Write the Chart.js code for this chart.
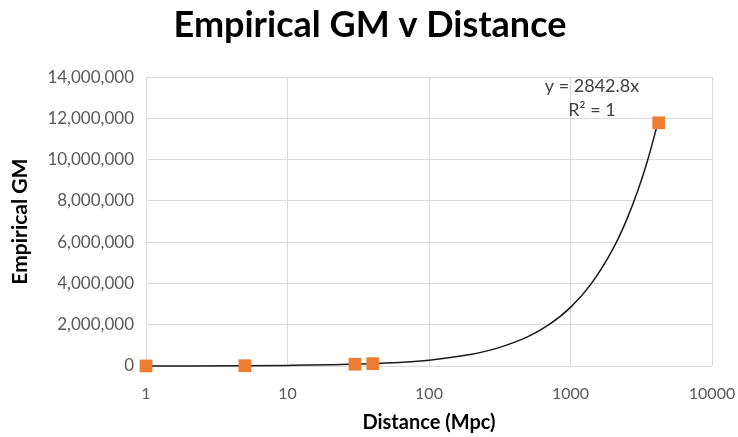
<!DOCTYPE html>
<html>
<head>
<meta charset="utf-8">
<script src="https://cdn.jsdelivr.net/npm/chart.js@4"></script>
<style>
  html, body { margin: 0; padding: 0; background: #fff; }
  #wrap { width: 738px; height: 437px; }
</style>
</head>
<body>
<div id="wrap"><canvas id="gmChart" width="738" height="437"></canvas></div>
<script>
// values
const distances = [1, 5, 30, 40, 4200];
const empiricalGM = [2800, 14200, 85300, 113700, 11790000];
const xTicks = [1, 10, 100, 1000, 10000];
const yTicks = [0, 2000000, 4000000, 6000000, 8000000, 10000000, 12000000, 14000000];

// linear trendline shown on the chart: y = 2842.8x, R² = 1
const trendSlope = 2842.8;
const trendX = [1, 2, 5, 10, 20, 50, 100, 200, 300, 500, 700, 1000, 1400, 2000, 2500, 3000, 3500, 4200];
const trendLabel = ["y = 2842.8x", "R² = 1"];

const fontFamily = "Lato, 'Open Sans', sans-serif";

const trendText = {
    id: 'trendText',
    afterDraw(chart) {
        const ctx = chart.ctx;
        ctx.save();
        ctx.font = "18px " + fontFamily;
        ctx.fillStyle = '#404040';
        ctx.textAlign = 'center';
        ctx.textBaseline = 'middle';
        ctx.fillText(trendLabel[0], 592, 86);
        ctx.fillText(trendLabel[1], 592, 110);
        ctx.restore();
    }
};

// no extra room for overhanging tick labels, the layout padding handles it
function noOverhang(scale) {
    scale.paddingLeft = 0;
    scale.paddingRight = 0;
    scale.paddingTop = 0;
    scale.paddingBottom = 0;
}

const ctx = document.getElementById('gmChart').getContext('2d');

new Chart(ctx, {
    type: 'scatter',
    data: {
        datasets: [{
            label: 'Trend',
            data: trendX.map(x => ({ x: x, y: trendSlope * x })),
            showLine: true,
            borderColor: '#1a1a1a',
            borderWidth: 1.5,
            pointRadius: 0,
            cubicInterpolationMode: 'monotone',
            clip: false,
            order: 2
        }, {
            label: 'Empirical GM',
            data: distances.map((d, i) => ({ x: d, y: empiricalGM[i] })),
            pointStyle: 'rect',
            pointRadius: 9,
            backgroundColor: '#ED7D31',
            borderColor: '#ED7D31',
            borderWidth: 0,
            clip: false,
            order: 1
        }]
    },
    options: {
        responsive: false,
        animation: false,
        layout: { padding: { left: 28, right: 26, top: 0, bottom: 0 } },
        plugins: {
            legend: { display: false },
            tooltip: { enabled: false },
            title: {
                display: true,
                text: 'Empirical GM v Distance',
                color: '#000',
                font: { family: fontFamily, size: 36, weight: 'bold' },
                padding: { top: 4, bottom: 30 }
            }
        },
        scales: {
            x: {
                type: 'logarithmic',
                min: 1,
                max: 10000,
                afterBuildTicks: function (scale) {
                    scale.ticks = xTicks.map(v => ({ value: v }));
                },
                afterFit: function (scale) {
                    scale.height = 71;
                    noOverhang(scale);
                },
                ticks: {
                    color: '#595959',
                    font: { family: fontFamily, size: 16 },
                    padding: 18,
                    maxRotation: 0,
                    callback: function (value) { return String(value); }
                },
                grid: { color: '#d9d9d9', drawTicks: false },
                border: { display: false },
                title: {
                    display: true,
                    text: 'Distance (Mpc)',
                    color: '#000',
                    font: { family: fontFamily, size: 20, weight: 'bold' },
                    padding: { top: 0, bottom: 2 }
                }
            },
            y: {
                min: 0,
                max: 14000000,
                afterBuildTicks: function (scale) {
                    scale.ticks = yTicks.map(v => ({ value: v }));
                },
                afterFit: function (scale) {
                    scale.width = 118;
                    noOverhang(scale);
                },
                ticks: {
                    color: '#595959',
                    font: { family: fontFamily, size: 17 },
                    padding: 12,
                    callback: function (value) { return value.toLocaleString('en-US'); }
                },
                grid: { color: '#d9d9d9', drawTicks: false },
                border: { display: false },
                title: {
                    display: true,
                    text: 'Empirical GM',
                    color: '#000',
                    font: { family: fontFamily, size: 21, weight: 'bold' },
                    padding: { top: -20, bottom: 0 }
                }
            }
        }
    },
    plugins: [trendText]
});
</script>
</body>
</html>
